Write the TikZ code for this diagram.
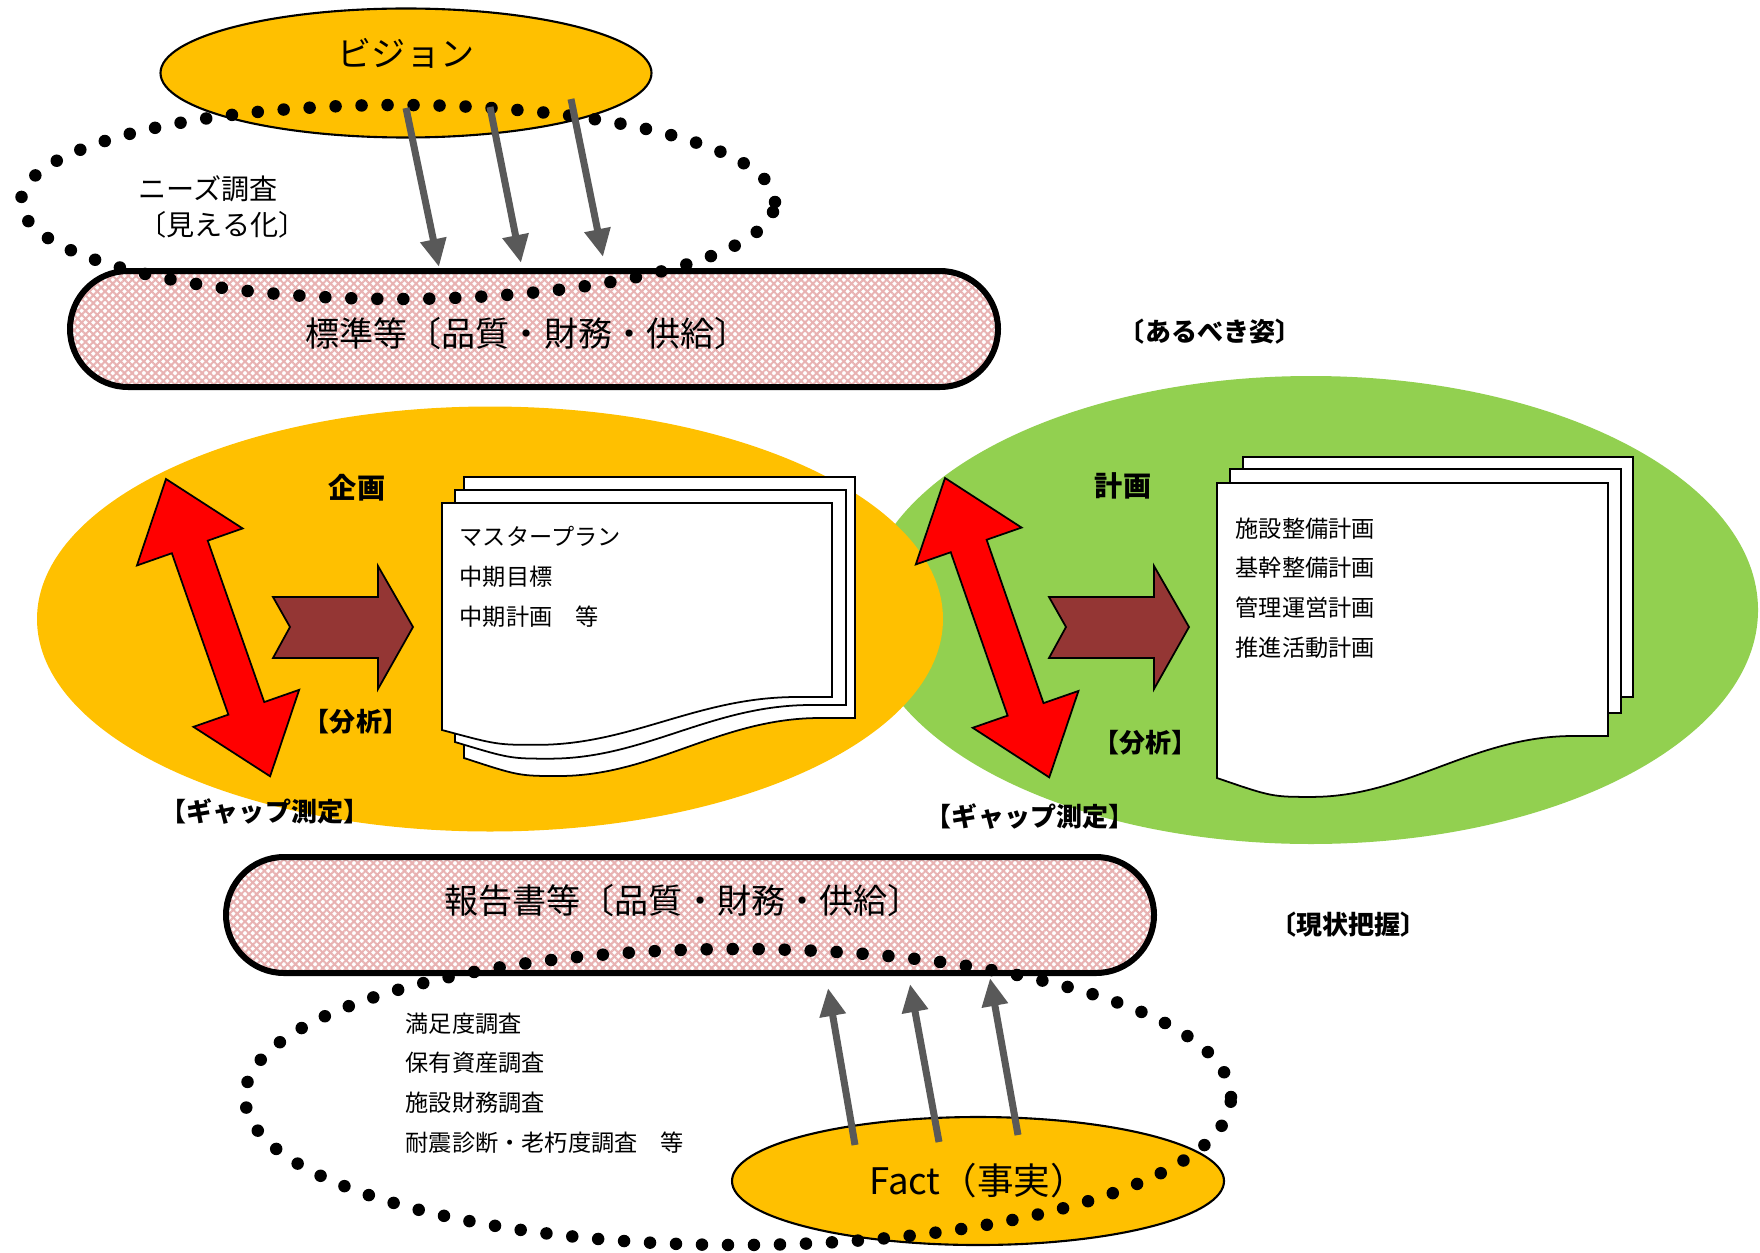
\documentclass[tikz,border=0pt]{standalone}
\usepackage{fontspec}
\setmainfont{Noto Sans CJK JP}
\usetikzlibrary{arrows.meta,shapes.geometric,shapes.misc,patterns.meta}

\definecolor{planorange}{HTML}{FFC000}
\definecolor{plangreen}{HTML}{92D050}
\definecolor{gapred}{HTML}{FF0000}
\definecolor{stepbrown}{HTML}{943634}
\definecolor{flowgray}{HTML}{595959}
\definecolor{hatchpink}{RGB}{232,178,178}

% paper sheet with a wavy lower edge: x, y (top left), width, right height, wave depth
\newcommand{\docsheet}[5]{%
  \begin{scope}[shift={(#1,#2)}]
    \filldraw[sheet] (0,0) -- (#3,0) -- (#3,#4) -- ({#3-35},#4)
      .. controls ({#3-135},#4) and (190,{#4+1.45*#5}) .. (95,{#4+1.45*#5})
      .. controls (55,{#4+1.45*#5}) .. (0,{#4+#5}) -- cycle;
  \end{scope}}
% two-headed block arrow: tip x, tip y, angle, length
\newcommand{\gaparrow}[4]{%
  \begin{scope}[shift={(#1,#2)},rotate=#3]
    \filldraw[gap] (0,0) -- (72,56) -- (72,19) -- ({#4-72},19) -- ({#4-72},56) -- (#4,0)
      -- ({#4-72},-56) -- ({#4-72},-19) -- (72,-19) -- (72,-56) -- cycle;
  \end{scope}}
% block arrow with notched tail: tail x, middle y
\newcommand{\chevron}[2]{%
  \begin{scope}[shift={(#1,#2)}]
    \filldraw[chev] (0,-30) -- (105,-30) -- (105,-61) -- (140,0) -- (105,62)
      -- (105,31) -- (0,31) -- (17,0) -- cycle;
  \end{scope}}

\begin{document}
\begin{tikzpicture}[
  x=0.1mm, y=-0.1mm,
  oval/.style={ellipse, inner sep=0pt},
  band/.style={rounded rectangle, draw, line width=0.6mm, inner sep=0pt,
    minimum width=92.8mm, minimum height=11.6mm, preaction={fill=white},
    pattern={Hatch[angle=45,distance=0.55mm,line width=0.2mm]}, pattern color=hatchpink},
  bandtxt/.style={inner sep=0pt, font=\fontsize{9.7}{11}\selectfont},
  dotring/.style={line width=1.25mm, line cap=round, dash pattern=on 0pt off 2.6mm},
  push/.style={draw=flowgray, line width=0.7mm, -{Triangle[length=2.8mm,width=2.5mm]}},
  gap/.style={fill=gapred, draw=black, line width=0.5pt},
  chev/.style={fill=stepbrown, draw=black, line width=0.5pt},
  sheet/.style={fill=white, draw=black, line width=0.5pt},
  memo/.style={anchor=west, align=left, inner sep=0pt, font=\fontsize{6.6}{11.3}\selectfont},
  tag/.style={inner sep=0pt, font=\fontsize{7.4}{8}\selectfont\bfseries},
  head/.style={inner sep=0pt, font=\fontsize{8}{9}\selectfont\bfseries}
]
\useasboundingbox (0,0) rectangle (1760,1252);

% planning (orange) over execution (green)
\node[oval, fill=plangreen, minimum width=89.4mm, minimum height=46.8mm] (exec) at (1311,610) {};
\node[oval, fill=planorange, minimum width=90.6mm, minimum height=42.5mm] (plan) at (490,619) {};

% document stacks
\docsheet{464}{477}{391}{241}{40}
\docsheet{455}{490}{391}{215}{37}
\docsheet{442}{503}{390}{194}{33}
\docsheet{1243}{457}{390}{240}{42}
\docsheet{1230}{469}{391}{244}{42}
\docsheet{1217}{483}{391}{253}{42}
\node[memo] (plandoc) at (459,577) {マスタープラン\\中期目標\\中期計画　等};
\node[memo] (execdoc) at (1235,588) {施設整備計画\\基幹整備計画\\管理運営計画\\推進活動計画};

% gap and analysis arrows
\gaparrow{166}{479}{-70.7}{315}
\gaparrow{945}{478}{-70.8}{317}
\chevron{273}{627}
\chevron{1049}{627}
\node[head] (plantitle) at (357,488) {企画};
\node[head] (exectitle) at (1123,486) {計画};
\node[tag] (planana) at (356,722) {【分析】};
\node[tag] (execana) at (1145,743) {【分析】};
\node[tag] (plangap) at (265,812) {【ギャップ測定】};
\node[tag] (execgap) at (1030,817) {【ギャップ測定】};

% vision side
\node[oval, draw, line width=0.6pt, fill=planorange, minimum width=49.1mm, minimum height=12.9mm] (vision) at (406,73) {};
\node[bandtxt] (visiontxt) at (406,53) {ビジョン};
\node[band] (std) at (534,329) {};
\node[bandtxt] (stdtxt) at (527,334) {標準等〔品質・財務・供給〕};
\draw[dotring] (398,202) ellipse [x radius=37.7mm, y radius=9.7mm];
\node[anchor=west, align=left, inner sep=0pt, font=\fontsize{8}{10}\selectfont] (needs) at (138,207) {ニーズ調査\\〔見える化〕};
\coordinate (vis1) at (406,108);
\coordinate (vis2) at (490,107);
\coordinate (vis3) at (571,99);
\coordinate (std1) at (439,267);
\coordinate (std2) at (521,263);
\coordinate (std3) at (603,257);
\draw[push] (vis1) -- (std1);
\draw[push] (vis2) -- (std2);
\draw[push] (vis3) -- (std3);

% fact side
\node[band] (report) at (690,915) {};
\node[bandtxt] (reporttxt) at (683,901) {報告書等〔品質・財務・供給〕};
\node[oval, draw, line width=0.6pt, fill=planorange, minimum width=49.2mm, minimum height=12.8mm,
  font=\fontsize{10.4}{11}\selectfont] (fact) at (978,1181) {Fact（事実）};
\draw[dotring] (738,1097) ellipse [x radius=49.3mm, y radius=14.8mm];
\node[memo] (survey) at (405,1083) {満足度調査\\保有資産調査\\施設財務調査\\耐震診断・老朽度調査　等};
\coordinate (fact1) at (855,1145);
\coordinate (fact2) at (939,1142);
\coordinate (fact3) at (1018,1135);
\coordinate (rep1) at (828,988);
\coordinate (rep2) at (910,984);
\coordinate (rep3) at (990,978);
\draw[push] (fact1) -- (rep1);
\draw[push] (fact2) -- (rep2);
\draw[push] (fact3) -- (rep3);

\node[tag] (ideal) at (1210,332) {〔あるべき姿〕};
\node[tag] (current) at (1348,925) {〔現状把握〕};
\end{tikzpicture}
\end{document}
